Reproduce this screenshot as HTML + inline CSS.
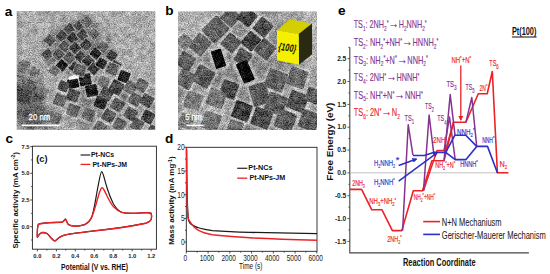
<!DOCTYPE html>
<html><head><meta charset="utf-8"><style>
html,body{margin:0;padding:0;background:#fff;width:550px;height:274px;overflow:hidden}
svg{display:block}
</style></head><body>
<svg width="550" height="274" viewBox="0 0 550 274">
<rect width="550" height="274" fill="#fff"/>
<clipPath id="clipA"><rect x="16.8" y="10.9" width="138.4" height="118.9"/></clipPath>
<clipPath id="clipB"><rect x="178" y="11.5" width="139.0" height="118.5"/></clipPath>
<filter id="tem" x="0" y="0" width="100%" height="100%" color-interpolation-filters="sRGB"><feGaussianBlur in="SourceGraphic" stdDeviation="0.45" result="b"/><feTurbulence type="fractalNoise" baseFrequency="0.85" numOctaves="2" seed="7" result="n"/><feColorMatrix in="n" type="matrix" values="1 0 0 0 0  1 0 0 0 0  1 0 0 0 0  0 0 0 0 1" result="g"/><feTurbulence type="fractalNoise" baseFrequency="0.18" numOctaves="2" seed="3" result="n2"/><feColorMatrix in="n2" type="matrix" values="0 1 0 0 0  0 1 0 0 0  0 1 0 0 0  0 0 0 0 1" result="g2"/><feComposite in="b" in2="g" operator="arithmetic" k1="0" k2="1" k3="0.65" k4="-0.325" result="c1"/><feComposite in="c1" in2="g2" operator="arithmetic" k1="0" k2="1" k3="0.35" k4="-0.175"/></filter>
<filter id="bl4" x="-50%" y="-50%" width="200%" height="200%"><feGaussianBlur stdDeviation="5"/></filter>
<filter id="bl2" x="-20%" y="-20%" width="140%" height="140%"><feGaussianBlur stdDeviation="2"/></filter>
<filter id="bl1" x="-10%" y="-10%" width="120%" height="120%"><feGaussianBlur stdDeviation="0.9"/></filter>
<g clip-path="url(#clipA)"><g filter="url(#tem)">
<rect x="16.8" y="10.9" width="138.4" height="118.9" fill="#aaaaaa"/>
<ellipse cx="28" cy="100" rx="16" ry="24" fill="#6a6a6a" filter="url(#bl4)"/>
<ellipse cx="26" cy="75" rx="10" ry="10" fill="#909090" filter="url(#bl4)"/>
<ellipse cx="112" cy="105" rx="45" ry="28" fill="#7c7c7c" filter="url(#bl4)"/>
<polygon points="44,38 62,27 86,14 98,28 104,44 118,58 124,76 100,76 60,74 44,62" fill="#7c7c7c" filter="url(#bl2)"/>
<ellipse cx="40" cy="118" rx="20" ry="10" fill="#8a8a8a" filter="url(#bl4)"/>
<ellipse cx="34" cy="116" rx="18" ry="10" fill="#5a5a5a" filter="url(#bl4)"/>
<g filter="url(#bl1)">
<rect x="82.4" y="55.3" width="11.6" height="11.6" rx="1.5" fill="none" stroke="#d6d6d6" stroke-width="1.4" transform="rotate(45 88.2 61.1)"/>
<rect x="56.1" y="59.7" width="11.6" height="11.6" rx="1.5" fill="none" stroke="#b4b4b4" stroke-width="1.4" transform="rotate(40 61.9 65.5)"/>
<rect x="69.2" y="61.8" width="11.6" height="11.6" rx="1.5" fill="none" stroke="#d6d6d6" stroke-width="1.4" transform="rotate(40 75.0 67.6)"/>
<rect x="87.8" y="62.9" width="11.6" height="11.6" rx="1.5" fill="none" stroke="#d6d6d6" stroke-width="1.4" transform="rotate(40 93.6 68.7)"/>
<rect x="95.9" y="57.7" width="11.4" height="11.4" rx="1.5" fill="none" stroke="#d6d6d6" stroke-width="1.4" transform="rotate(30 101.6 63.4)"/>
<rect x="109.9" y="60.2" width="11.4" height="11.4" rx="1.5" fill="none" stroke="#d6d6d6" stroke-width="1.4" transform="rotate(30 115.6 65.9)"/>
<rect x="48.8" y="65.5" width="10.9" height="10.9" rx="1.5" fill="none" stroke="#b4b4b4" stroke-width="1.4" transform="rotate(35 54.3 71.0)"/>
<rect x="66.9" y="78.3" width="12.4" height="10.4" rx="1.5" fill="none" stroke="#d6d6d6" stroke-width="1.4" transform="rotate(-10 73.1 83.5)"/>
<rect x="78.7" y="73.2" width="13.0" height="13.0" rx="1.5" fill="none" stroke="#d6d6d6" stroke-width="1.4" transform="rotate(-10 85.2 79.7)"/>
<rect x="85.2" y="84.2" width="13.0" height="13.0" rx="1.5" fill="none" stroke="#d6d6d6" stroke-width="1.4" transform="rotate(-10 91.7 90.7)"/>
<rect x="94.3" y="96.0" width="13.0" height="13.0" rx="1.5" fill="none" stroke="#d6d6d6" stroke-width="1.4" transform="rotate(20 100.8 102.5)"/>
<rect x="106.0" y="62.3" width="13.0" height="13.0" rx="1.5" fill="none" stroke="#d6d6d6" stroke-width="1.4" transform="rotate(20 112.5 68.8)"/>
<rect x="97.8" y="75.9" width="12.0" height="12.0" rx="1.5" fill="none" stroke="#d6d6d6" stroke-width="1.4" transform="rotate(20 103.8 81.9)"/>
<rect x="73.2" y="63.5" width="13.0" height="13.0" rx="1.5" fill="none" stroke="#d6d6d6" stroke-width="1.4" transform="rotate(20 79.7 70.0)"/>
<rect x="66.6" y="89.0" width="13.0" height="13.0" rx="1.5" fill="none" stroke="#d6d6d6" stroke-width="1.4" transform="rotate(20 73.1 95.5)"/>
<rect x="57.8" y="80.6" width="11.4" height="11.4" rx="1.5" fill="none" stroke="#d6d6d6" stroke-width="1.4" transform="rotate(20 63.5 86.3)"/>
<rect x="82.0" y="108.2" width="13.0" height="13.0" rx="1.5" fill="none" stroke="#d6d6d6" stroke-width="1.4" transform="rotate(20 88.5 114.7)"/>
<rect x="66.6" y="103.9" width="13.0" height="13.0" rx="1.5" fill="none" stroke="#d6d6d6" stroke-width="1.4" transform="rotate(20 73.1 110.4)"/>
<rect x="53.5" y="93.5" width="13.0" height="13.0" rx="1.5" fill="none" stroke="#b4b4b4" stroke-width="1.4" transform="rotate(20 60.0 100.0)"/>
<rect x="118.1" y="70.6" width="12.0" height="12.0" rx="1.5" fill="none" stroke="#d6d6d6" stroke-width="1.4" transform="rotate(20 124.1 76.6)"/>
<rect x="109.4" y="80.5" width="14.0" height="14.0" rx="1.5" fill="none" stroke="#d6d6d6" stroke-width="1.4" transform="rotate(30 116.4 87.5)"/>
<rect x="100.1" y="87.0" width="13.0" height="13.0" rx="1.5" fill="none" stroke="#d6d6d6" stroke-width="1.4" transform="rotate(30 106.6 93.5)"/>
<rect x="111.0" y="98.5" width="13.0" height="13.0" rx="1.5" fill="none" stroke="#d6d6d6" stroke-width="1.4" transform="rotate(30 117.5 105.0)"/>
<rect x="124.1" y="81.0" width="13.0" height="13.0" rx="1.5" fill="none" stroke="#d6d6d6" stroke-width="1.4" transform="rotate(30 130.6 87.5)"/>
<rect x="135.1" y="78.8" width="13.0" height="13.0" rx="1.5" fill="none" stroke="#d6d6d6" stroke-width="1.4" transform="rotate(30 141.6 85.3)"/>
<rect x="128.5" y="93.0" width="13.0" height="13.0" rx="1.5" fill="none" stroke="#d6d6d6" stroke-width="1.4" transform="rotate(30 135.0 99.5)"/>
<rect x="140.5" y="94.1" width="13.0" height="13.0" rx="1.5" fill="none" stroke="#d6d6d6" stroke-width="1.4" transform="rotate(30 147.0 100.6)"/>
<rect x="102.3" y="109.5" width="13.0" height="13.0" rx="1.5" fill="none" stroke="#d6d6d6" stroke-width="1.4" transform="rotate(30 108.8 116.0)"/>
<rect x="124.1" y="107.3" width="13.0" height="13.0" rx="1.5" fill="none" stroke="#d6d6d6" stroke-width="1.4" transform="rotate(30 130.6 113.8)"/>
<rect x="141.6" y="110.5" width="13.0" height="13.0" rx="1.5" fill="none" stroke="#d6d6d6" stroke-width="1.4" transform="rotate(30 148.1 117.0)"/>
<rect x="113.2" y="118.2" width="13.0" height="13.0" rx="1.5" fill="none" stroke="#d6d6d6" stroke-width="1.4" transform="rotate(30 119.7 124.7)"/>
<rect x="130.7" y="118.2" width="13.0" height="13.0" rx="1.5" fill="none" stroke="#d6d6d6" stroke-width="1.4" transform="rotate(30 137.2 124.7)"/>
<rect x="93.5" y="121.5" width="13.0" height="13.0" rx="1.5" fill="none" stroke="#d6d6d6" stroke-width="1.4" transform="rotate(30 100.0 128.0)"/>
<rect x="48.5" y="111.5" width="13.0" height="13.0" rx="1.5" fill="none" stroke="#b4b4b4" stroke-width="1.4" transform="rotate(20 55.0 118.0)"/>
<rect x="146.5" y="125.5" width="13.0" height="13.0" rx="1.5" fill="none" stroke="#d6d6d6" stroke-width="1.4" transform="rotate(30 153.0 132.0)"/>
</g>
<rect x="64.5" y="24.2" width="10.2" height="10.2" rx="1.2" fill="#444444" stroke="#9c9c9c" stroke-width="1" transform="rotate(45 69.6 29.3)"/>
<rect x="74.3" y="20.9" width="10.2" height="10.2" rx="1.2" fill="#535353" stroke="#9c9c9c" stroke-width="1" transform="rotate(45 79.4 26.0)"/>
<rect x="82.0" y="16.6" width="10.2" height="10.2" rx="1.2" fill="#676767" stroke="#9c9c9c" stroke-width="1" transform="rotate(45 87.1 21.7)"/>
<rect x="56.8" y="30.8" width="10.2" height="10.2" rx="1.2" fill="#444444" stroke="#9c9c9c" stroke-width="1" transform="rotate(45 61.9 35.9)"/>
<rect x="67.7" y="33.0" width="10.2" height="10.2" rx="1.2" fill="#353535" stroke="#9c9c9c" stroke-width="1" transform="rotate(45 72.8 38.1)"/>
<rect x="77.6" y="29.7" width="10.2" height="10.2" rx="1.2" fill="#444444" stroke="#9c9c9c" stroke-width="1" transform="rotate(45 82.7 34.8)"/>
<rect x="88.5" y="28.6" width="10.2" height="10.2" rx="1.2" fill="#676767" stroke="#9c9c9c" stroke-width="1" transform="rotate(45 93.6 33.7)"/>
<rect x="44.8" y="35.2" width="10.2" height="10.2" rx="1.2" fill="#535353" stroke="#9c9c9c" stroke-width="1" transform="rotate(45 49.9 40.3)"/>
<rect x="59.0" y="41.7" width="10.2" height="10.2" rx="1.2" fill="#535353" stroke="#9c9c9c" stroke-width="1" transform="rotate(45 64.1 46.8)"/>
<rect x="69.9" y="42.8" width="10.2" height="10.2" rx="1.2" fill="#444444" stroke="#9c9c9c" stroke-width="1" transform="rotate(45 75.0 47.9)"/>
<rect x="80.9" y="39.6" width="10.2" height="10.2" rx="1.2" fill="#444444" stroke="#9c9c9c" stroke-width="1" transform="rotate(45 86.0 44.7)"/>
<rect x="90.7" y="48.3" width="10.2" height="10.2" rx="1.2" fill="#212121" stroke="#9c9c9c" stroke-width="1" transform="rotate(40 95.8 53.4)"/>
<rect x="42.6" y="49.4" width="10.2" height="10.2" rx="1.2" fill="#535353" stroke="#9c9c9c" stroke-width="1" transform="rotate(45 47.7 54.5)"/>
<rect x="53.5" y="49.4" width="10.2" height="10.2" rx="1.2" fill="#535353" stroke="#9c9c9c" stroke-width="1" transform="rotate(45 58.6 54.5)"/>
<rect x="64.5" y="52.7" width="10.2" height="10.2" rx="1.2" fill="#535353" stroke="#9c9c9c" stroke-width="1" transform="rotate(45 69.6 57.8)"/>
<rect x="75.4" y="51.6" width="10.2" height="10.2" rx="1.2" fill="#444444" stroke="#9c9c9c" stroke-width="1" transform="rotate(45 80.5 56.7)"/>
<rect x="83.1" y="56.0" width="10.2" height="10.2" rx="1.2" fill="#353535" stroke="#9c9c9c" stroke-width="1" transform="rotate(45 88.2 61.1)"/>
<rect x="56.8" y="60.4" width="10.2" height="10.2" rx="1.2" fill="#212121" stroke="#9c9c9c" stroke-width="1" transform="rotate(40 61.9 65.5)"/>
<rect x="69.9" y="62.5" width="10.2" height="10.2" rx="1.2" fill="#353535" stroke="#9c9c9c" stroke-width="1" transform="rotate(40 75.0 67.6)"/>
<rect x="88.5" y="63.6" width="10.2" height="10.2" rx="1.2" fill="#3a3a3a" stroke="#9c9c9c" stroke-width="1" transform="rotate(40 93.6 68.7)"/>
<rect x="97.8" y="41.7" width="10.2" height="10.2" rx="1.2" fill="#626262" stroke="#9c9c9c" stroke-width="1" transform="rotate(40 102.9 46.8)"/>
<rect x="106.8" y="50.7" width="10.0" height="10.0" rx="1.2" fill="#414141" stroke="#9c9c9c" stroke-width="1" transform="rotate(35 111.8 55.7)"/>
<rect x="105.8" y="35.6" width="7.0" height="7.0" rx="1.2" fill="#8c8c8c" stroke="#9c9c9c" stroke-width="1" transform="rotate(35 109.3 39.1)"/>
<rect x="96.6" y="58.4" width="10.0" height="10.0" rx="1.2" fill="#282828" stroke="#9c9c9c" stroke-width="1" transform="rotate(30 101.6 63.4)"/>
<rect x="110.6" y="60.9" width="10.0" height="10.0" rx="1.2" fill="#4b4b4b" stroke="#9c9c9c" stroke-width="1" transform="rotate(30 115.6 65.9)"/>
<rect x="49.5" y="66.2" width="9.5" height="9.5" rx="1.2" fill="#6e6e6e" stroke="#9c9c9c" stroke-width="1" transform="rotate(35 54.3 71.0)"/>
<rect x="20.5" y="60.2" width="9.0" height="9.0" rx="1.2" fill="#7d7d7d" transform="rotate(30 25.0 64.7)"/>
<rect x="67.6" y="79.0" width="11.0" height="9.0" rx="1.2" fill="#191919" transform="rotate(-10 73.1 83.5)"/>
<rect x="79.4" y="73.9" width="11.6" height="11.6" rx="1.2" fill="#1e1e1e" transform="rotate(-10 85.2 79.7)"/>
<rect x="85.9" y="84.9" width="11.6" height="11.6" rx="1.2" fill="#1e1e1e" transform="rotate(-10 91.7 90.7)"/>
<rect x="95.0" y="96.7" width="11.6" height="11.6" rx="1.2" fill="#2d2d2d" transform="rotate(20 100.8 102.5)"/>
<rect x="106.7" y="63.0" width="11.6" height="11.6" rx="1.2" fill="#5f5f5f" stroke="#9c9c9c" stroke-width="1" transform="rotate(20 112.5 68.8)"/>
<rect x="98.5" y="76.6" width="10.6" height="10.6" rx="1.2" fill="#787878" transform="rotate(20 103.8 81.9)"/>
<rect x="73.9" y="64.2" width="11.6" height="11.6" rx="1.2" fill="#555555" stroke="#9c9c9c" stroke-width="1" transform="rotate(20 79.7 70.0)"/>
<rect x="67.3" y="89.7" width="11.6" height="11.6" rx="1.2" fill="#505050" transform="rotate(20 73.1 95.5)"/>
<rect x="58.5" y="81.3" width="10.0" height="10.0" rx="1.2" fill="#4b4b4b" transform="rotate(20 63.5 86.3)"/>
<rect x="82.7" y="108.9" width="11.6" height="11.6" rx="1.2" fill="#646464" transform="rotate(20 88.5 114.7)"/>
<rect x="67.3" y="104.6" width="11.6" height="11.6" rx="1.2" fill="#646464" transform="rotate(20 73.1 110.4)"/>
<rect x="54.2" y="94.2" width="11.6" height="11.6" rx="1.2" fill="#646464" transform="rotate(20 60.0 100.0)"/>
<rect x="118.8" y="71.3" width="10.6" height="10.6" rx="1.2" fill="#232323" transform="rotate(20 124.1 76.6)"/>
<rect x="110.1" y="81.2" width="12.6" height="12.6" rx="1.2" fill="#464646" transform="rotate(30 116.4 87.5)"/>
<rect x="100.8" y="87.7" width="11.6" height="11.6" rx="1.2" fill="#505050" transform="rotate(30 106.6 93.5)"/>
<rect x="111.7" y="99.2" width="11.6" height="11.6" rx="1.2" fill="#555555" transform="rotate(30 117.5 105.0)"/>
<rect x="124.8" y="81.7" width="11.6" height="11.6" rx="1.2" fill="#6e6e6e" transform="rotate(30 130.6 87.5)"/>
<rect x="135.8" y="79.5" width="11.6" height="11.6" rx="1.2" fill="#646464" transform="rotate(30 141.6 85.3)"/>
<rect x="129.2" y="93.7" width="11.6" height="11.6" rx="1.2" fill="#5f5f5f" transform="rotate(30 135.0 99.5)"/>
<rect x="141.2" y="94.8" width="11.6" height="11.6" rx="1.2" fill="#505050" transform="rotate(30 147.0 100.6)"/>
<rect x="103.0" y="110.2" width="11.6" height="11.6" rx="1.2" fill="#5a5a5a" transform="rotate(30 108.8 116.0)"/>
<rect x="124.8" y="108.0" width="11.6" height="11.6" rx="1.2" fill="#5a5a5a" transform="rotate(30 130.6 113.8)"/>
<rect x="142.3" y="111.2" width="11.6" height="11.6" rx="1.2" fill="#414141" transform="rotate(30 148.1 117.0)"/>
<rect x="113.9" y="118.9" width="11.6" height="11.6" rx="1.2" fill="#5f5f5f" transform="rotate(30 119.7 124.7)"/>
<rect x="131.4" y="118.9" width="11.6" height="11.6" rx="1.2" fill="#5f5f5f" transform="rotate(30 137.2 124.7)"/>
<rect x="94.2" y="122.2" width="11.6" height="11.6" rx="1.2" fill="#646464" transform="rotate(30 100.0 128.0)"/>
<rect x="49.2" y="112.2" width="11.6" height="11.6" rx="1.2" fill="#6e6e6e" transform="rotate(20 55.0 118.0)"/>
<rect x="147.2" y="126.2" width="11.6" height="11.6" rx="1.2" fill="#5a5a5a" transform="rotate(30 153.0 132.0)"/>
<rect x="17.0" y="63.0" width="10.0" height="10.0" rx="1.2" fill="#6e6e6e" transform="rotate(20 22.0 68.0)"/>
<rect x="30.5" y="67.5" width="9.0" height="9.0" rx="1.2" fill="#787878" transform="rotate(20 35.0 72.0)"/>
<rect x="15.0" y="82.0" width="10.0" height="12.0" rx="1.2" fill="#555555" transform="rotate(10 20.0 88.0)"/>
<rect x="33.0" y="93.0" width="10.0" height="10.0" rx="1.2" fill="#5f5f5f" transform="rotate(20 38.0 98.0)"/>
<rect x="23.0" y="107.0" width="10.0" height="10.0" rx="1.2" fill="#555555" transform="rotate(15 28.0 112.0)"/>
<rect x="39.0" y="120.0" width="10.0" height="8.0" rx="1.2" fill="#6e6e6e" transform="rotate(20 44.0 124.0)"/>
<rect x="16.2" y="89.3" width="15.0" height="13.0" rx="1.2" fill="#464646" transform="rotate(10 23.7 95.8)"/>
<rect x="26.3" y="80.5" width="10.0" height="10.0" rx="1.2" fill="#5f5f5f" transform="rotate(20 31.3 85.5)"/>
<rect x="17.0" y="109.5" width="10.0" height="11.0" rx="1.2" fill="#5f5f5f" transform="rotate(20 22.0 115.0)"/>
<rect x="31.0" y="103.0" width="10.0" height="10.0" rx="1.2" fill="#696969" transform="rotate(20 36.0 108.0)"/>
<rect x="15.5" y="75.5" width="9.0" height="9.0" rx="1.2" fill="#737373" transform="rotate(20 20.0 80.0)"/>
<rect x="38.5" y="87.5" width="9.0" height="9.0" rx="1.2" fill="#737373" transform="rotate(20 43.0 92.0)"/>
<rect x="25.0" y="121.0" width="10.0" height="8.0" rx="1.2" fill="#646464" transform="rotate(20 30.0 125.0)"/>
<rect x="68.5" y="75.8" width="11" height="3.2" rx="1.5" fill="#f6f6f6" transform="rotate(-10 74 77.4)"/>
</g></g>
<g clip-path="url(#clipB)"><g filter="url(#tem)">
<rect x="178" y="11.5" width="139.0" height="118.5" fill="#888888"/>
<ellipse cx="190" cy="24" rx="24" ry="18" fill="#b0b0b0" filter="url(#bl4)"/>
<ellipse cx="310" cy="40" rx="14" ry="40" fill="#b4b4b4" filter="url(#bl4)"/>
<ellipse cx="282" cy="15" rx="20" ry="6" fill="#a8a8a8" filter="url(#bl4)"/>
<ellipse cx="205" cy="112" rx="28" ry="20" fill="#a4a4a4" filter="url(#bl4)"/>
<ellipse cx="300" cy="100" rx="20" ry="30" fill="#9c9c9c" filter="url(#bl4)"/>
<g filter="url(#bl1)">
<rect x="204.9" y="17.9" width="21.1" height="23.1" rx="1.5" fill="none" stroke="#d0d0d0" stroke-width="1.6" transform="rotate(45 215.5 29.5)"/>
<rect x="190.9" y="34.5" width="18.1" height="20.1" rx="1.5" fill="none" stroke="#d0d0d0" stroke-width="1.6" transform="rotate(40 200.0 44.5)"/>
<rect x="221.9" y="8.4" width="17.1" height="17.1" rx="1.5" fill="none" stroke="#d0d0d0" stroke-width="1.6" transform="rotate(40 230.5 17.0)"/>
<rect x="238.5" y="8.4" width="17.1" height="17.1" rx="1.5" fill="none" stroke="#d0d0d0" stroke-width="1.6" transform="rotate(40 247.1 17.0)"/>
<rect x="254.6" y="18.6" width="17.1" height="17.1" rx="1.5" fill="none" stroke="#d0d0d0" stroke-width="1.6" transform="rotate(40 263.2 27.1)"/>
<rect x="243.0" y="32.6" width="16.1" height="17.1" rx="1.5" fill="none" stroke="#d0d0d0" stroke-width="1.6" transform="rotate(40 251.1 41.1)"/>
<rect x="222.4" y="34.6" width="17.1" height="17.1" rx="1.5" fill="none" stroke="#d0d0d0" stroke-width="1.6" transform="rotate(40 231.0 43.1)"/>
<rect x="256.1" y="40.2" width="18.1" height="18.1" rx="1.5" fill="none" stroke="#d0d0d0" stroke-width="1.6" transform="rotate(40 265.2 49.2)"/>
<rect x="235.0" y="49.2" width="16.1" height="16.1" rx="1.5" fill="none" stroke="#d0d0d0" stroke-width="1.6" transform="rotate(30 243.1 57.2)"/>
<rect x="177.4" y="52.7" width="17.1" height="17.1" rx="1.5" fill="none" stroke="#d0d0d0" stroke-width="1.6" transform="rotate(30 186.0 61.2)"/>
<rect x="177.2" y="34.6" width="14.3" height="14.3" rx="1.5" fill="none" stroke="#d0d0d0" stroke-width="1.6" transform="rotate(40 184.4 41.7)"/>
<rect x="193.4" y="66.5" width="20.1" height="20.1" rx="1.5" fill="none" stroke="#d0d0d0" stroke-width="1.6" transform="rotate(30 203.5 76.6)"/>
<rect x="176.6" y="70.2" width="18.1" height="18.1" rx="1.5" fill="none" stroke="#d0d0d0" stroke-width="1.6" transform="rotate(30 185.7 79.2)"/>
<rect x="220.0" y="80.4" width="18.1" height="18.1" rx="1.5" fill="none" stroke="#d0d0d0" stroke-width="1.6" transform="rotate(20 229.1 89.4)"/>
<rect x="249.9" y="82.9" width="19.1" height="23.1" rx="1.5" fill="none" stroke="#d0d0d0" stroke-width="1.6" transform="rotate(-15 259.5 94.4)"/>
<rect x="232.3" y="101.5" width="19.1" height="19.1" rx="1.5" fill="none" stroke="#d0d0d0" stroke-width="1.6" transform="rotate(20 241.9 111.1)"/>
<rect x="265.4" y="69.7" width="21.1" height="21.1" rx="1.5" fill="none" stroke="#d0d0d0" stroke-width="1.6" transform="rotate(20 276.0 80.2)"/>
<rect x="287.3" y="67.8" width="20.1" height="20.1" rx="1.5" fill="none" stroke="#d0d0d0" stroke-width="1.6" transform="rotate(20 297.4 77.8)"/>
<rect x="287.3" y="91.5" width="20.1" height="20.1" rx="1.5" fill="none" stroke="#d0d0d0" stroke-width="1.6" transform="rotate(20 297.4 101.5)"/>
<rect x="265.4" y="93.4" width="21.1" height="21.1" rx="1.5" fill="none" stroke="#d0d0d0" stroke-width="1.6" transform="rotate(20 276.0 103.9)"/>
<rect x="251.8" y="108.0" width="20.1" height="20.1" rx="1.5" fill="none" stroke="#d0d0d0" stroke-width="1.6" transform="rotate(20 261.8 118.1)"/>
<rect x="275.4" y="110.5" width="20.1" height="20.1" rx="1.5" fill="none" stroke="#d0d0d0" stroke-width="1.6" transform="rotate(20 285.5 120.5)"/>
<rect x="299.1" y="110.5" width="20.1" height="20.1" rx="1.5" fill="none" stroke="#d0d0d0" stroke-width="1.6" transform="rotate(20 309.2 120.5)"/>
<rect x="305.3" y="87.8" width="16.1" height="16.1" rx="1.5" fill="none" stroke="#d0d0d0" stroke-width="1.6" transform="rotate(20 313.4 95.8)"/>
<rect x="206.8" y="88.8" width="19.1" height="19.1" rx="1.5" fill="none" stroke="#d0d0d0" stroke-width="1.6" transform="rotate(20 216.3 98.3)"/>
<rect x="184.2" y="91.9" width="18.1" height="18.1" rx="1.5" fill="none" stroke="#d0d0d0" stroke-width="1.6" transform="rotate(20 193.3 100.9)"/>
<rect x="201.6" y="111.8" width="19.1" height="19.1" rx="1.5" fill="none" stroke="#d0d0d0" stroke-width="1.6" transform="rotate(20 211.2 121.3)"/>
<rect x="177.9" y="113.0" width="16.1" height="16.1" rx="1.5" fill="none" stroke="#d0d0d0" stroke-width="1.6" transform="rotate(20 186.0 121.0)"/>
<rect x="226.9" y="120.0" width="16.1" height="16.1" rx="1.5" fill="none" stroke="#d0d0d0" stroke-width="1.6" transform="rotate(20 235.0 128.0)"/>
<rect x="211.2" y="47.4" width="14.6" height="22.6" rx="1.5" fill="none" stroke="#d0d0d0" stroke-width="1.6" transform="rotate(-17.5 218.5 58.7)"/>
<rect x="237.3" y="59.1" width="15.9" height="25.3" rx="1.5" fill="none" stroke="#d0d0d0" stroke-width="1.6" transform="rotate(-23.4 245.3 71.8)"/>
</g>
<rect x="211.2" y="47.5" width="14.5" height="22.5" rx="2" fill="#b8b8b8" filter="url(#bl1)" transform="rotate(-17.5 218.5 58.7)"/>
<rect x="237.4" y="59.2" width="15.8" height="25.2" rx="2" fill="#b8b8b8" filter="url(#bl1)" transform="rotate(-23.4 245.3 71.8)"/>
<rect x="205.8" y="18.8" width="19.5" height="21.5" rx="1.2" fill="#646464" transform="rotate(45 215.5 29.5)"/>
<rect x="191.8" y="35.2" width="16.5" height="18.5" rx="1.2" fill="#646464" transform="rotate(40 200.0 44.5)"/>
<rect x="222.8" y="9.2" width="15.5" height="15.5" rx="1.2" fill="#5f5f5f" transform="rotate(40 230.5 17.0)"/>
<rect x="239.3" y="9.2" width="15.5" height="15.5" rx="1.2" fill="#464646" transform="rotate(40 247.1 17.0)"/>
<rect x="255.4" y="19.4" width="15.5" height="15.5" rx="1.2" fill="#4b4b4b" transform="rotate(40 263.2 27.1)"/>
<rect x="243.8" y="33.4" width="14.5" height="15.5" rx="1.2" fill="#3c3c3c" transform="rotate(40 251.1 41.1)"/>
<rect x="223.2" y="35.4" width="15.5" height="15.5" rx="1.2" fill="#5a5a5a" transform="rotate(40 231.0 43.1)"/>
<rect x="256.9" y="41.0" width="16.5" height="16.5" rx="1.2" fill="#5a5a5a" transform="rotate(40 265.2 49.2)"/>
<rect x="235.8" y="50.0" width="14.5" height="14.5" rx="1.2" fill="#505050" transform="rotate(30 243.1 57.2)"/>
<rect x="178.2" y="53.5" width="15.5" height="15.5" rx="1.2" fill="#5f5f5f" transform="rotate(30 186.0 61.2)"/>
<rect x="178.1" y="35.4" width="12.7" height="12.7" rx="1.2" fill="#787878" transform="rotate(40 184.4 41.7)"/>
<rect x="194.2" y="67.3" width="18.5" height="18.5" rx="1.2" fill="#555555" transform="rotate(30 203.5 76.6)"/>
<rect x="177.4" y="71.0" width="16.5" height="16.5" rx="1.2" fill="#646464" transform="rotate(30 185.7 79.2)"/>
<rect x="220.8" y="81.2" width="16.5" height="16.5" rx="1.2" fill="#464646" transform="rotate(20 229.1 89.4)"/>
<rect x="250.8" y="83.7" width="17.5" height="21.5" rx="1.2" fill="#5a5a5a" transform="rotate(-15 259.5 94.4)"/>
<rect x="233.2" y="102.3" width="17.5" height="17.5" rx="1.2" fill="#3c3c3c" transform="rotate(20 241.9 111.1)"/>
<rect x="266.2" y="70.5" width="19.5" height="19.5" rx="1.2" fill="#5f5f5f" transform="rotate(20 276.0 80.2)"/>
<rect x="288.1" y="68.5" width="18.5" height="18.5" rx="1.2" fill="#696969" transform="rotate(20 297.4 77.8)"/>
<rect x="288.1" y="92.2" width="18.5" height="18.5" rx="1.2" fill="#505050" transform="rotate(20 297.4 101.5)"/>
<rect x="266.2" y="94.2" width="19.5" height="19.5" rx="1.2" fill="#5f5f5f" transform="rotate(20 276.0 103.9)"/>
<rect x="252.6" y="108.8" width="18.5" height="18.5" rx="1.2" fill="#4b4b4b" transform="rotate(20 261.8 118.1)"/>
<rect x="276.2" y="111.2" width="18.5" height="18.5" rx="1.2" fill="#5a5a5a" transform="rotate(20 285.5 120.5)"/>
<rect x="299.9" y="111.2" width="18.5" height="18.5" rx="1.2" fill="#5a5a5a" transform="rotate(20 309.2 120.5)"/>
<rect x="306.1" y="88.5" width="14.5" height="14.5" rx="1.2" fill="#5a5a5a" transform="rotate(20 313.4 95.8)"/>
<rect x="207.6" y="89.5" width="17.5" height="17.5" rx="1.2" fill="#767676" transform="rotate(20 216.3 98.3)"/>
<rect x="185.1" y="92.7" width="16.5" height="16.5" rx="1.2" fill="#787878" transform="rotate(20 193.3 100.9)"/>
<rect x="202.4" y="112.5" width="17.5" height="17.5" rx="1.2" fill="#737373" transform="rotate(20 211.2 121.3)"/>
<rect x="178.8" y="113.8" width="14.5" height="14.5" rx="1.2" fill="#7d7d7d" transform="rotate(20 186.0 121.0)"/>
<rect x="227.8" y="120.8" width="14.5" height="14.5" rx="1.2" fill="#6e6e6e" transform="rotate(20 235.0 128.0)"/>
<rect x="213.2" y="49.5" width="10.5" height="18.5" rx="1.2" fill="#040404" transform="rotate(-17.5 218.5 58.7)"/>
<rect x="239.4" y="61.2" width="11.8" height="21.2" rx="1.2" fill="#060606" transform="rotate(-23.4 245.3 71.8)"/>
</g></g>
<rect x="21.8" y="124.5" width="38" height="1.7" fill="#fff"/>
<text x="28.6" y="119.8" font-family='"Liberation Sans", sans-serif' font-size="9" fill="#fff" stroke="#fff" stroke-width="0.25" textLength="21.6" lengthAdjust="spacingAndGlyphs">20 nm</text>
<rect x="186.5" y="124.6" width="17" height="1.5" fill="#fff"/>
<text x="185.2" y="120" font-family='"Liberation Sans", sans-serif' font-size="9.2" fill="#fff" stroke="#fff" stroke-width="0.25" textLength="16.5" lengthAdjust="spacingAndGlyphs">5 nm</text>
<polygon points="277,30.3 290,19.2 312,23.8 298.7,34" fill="#d4cf00"/>
<polygon points="298.7,34 312,23.6 312.1,54.3 299,64.7" fill="#2a2a12"/>
<polygon points="277,30.3 298.7,34 299,64.7 277.1,60.3" fill="#f4f000"/>
<text x="278.4" y="51.2" transform="rotate(8 287.5 47.5)" font-family='"Liberation Sans", sans-serif' font-size="10.5" font-style="italic" font-weight="bold" fill="#151500" textLength="18" lengthAdjust="spacingAndGlyphs">{100}</text>
<text x="4.8" y="15.6" font-family='"Liberation Sans", sans-serif' font-size="13.6" font-weight="bold" fill="#000">a</text>
<text x="165.2" y="15.1" font-family='"Liberation Sans", sans-serif' font-size="13.6" font-weight="bold" fill="#000">b</text>
<text x="5.5" y="143.4" font-family='"Liberation Sans", sans-serif' font-size="13.6" font-weight="bold" fill="#000">c</text>
<text x="165.1" y="142.9" font-family='"Liberation Sans", sans-serif' font-size="13.6" font-weight="bold" fill="#000">d</text>
<text x="337.9" y="15.1" font-family='"Liberation Sans", sans-serif' font-size="13.6" font-weight="bold" fill="#000">e</text>
<rect x="32.4" y="146.2" width="124" height="103" fill="none" stroke="#222" stroke-width="0.9"/>
<line x1="30.2" y1="146.6" x2="32.4" y2="146.6" stroke="#222" stroke-width="0.8"/>
<text x="29.6" y="148.6" font-family='"Liberation Sans", sans-serif' font-size="5.8" font-weight="bold" text-anchor="end" fill="#222">7.5</text>
<line x1="31.099999999999998" y1="159.9" x2="32.4" y2="159.9" stroke="#222" stroke-width="0.8"/>
<line x1="30.2" y1="173.3" x2="32.4" y2="173.3" stroke="#222" stroke-width="0.8"/>
<text x="29.6" y="175.3" font-family='"Liberation Sans", sans-serif' font-size="5.8" font-weight="bold" text-anchor="end" fill="#222">5.0</text>
<line x1="31.099999999999998" y1="186.6" x2="32.4" y2="186.6" stroke="#222" stroke-width="0.8"/>
<line x1="30.2" y1="200.0" x2="32.4" y2="200.0" stroke="#222" stroke-width="0.8"/>
<text x="29.6" y="202.0" font-family='"Liberation Sans", sans-serif' font-size="5.8" font-weight="bold" text-anchor="end" fill="#222">2.5</text>
<line x1="31.099999999999998" y1="213.3" x2="32.4" y2="213.3" stroke="#222" stroke-width="0.8"/>
<line x1="30.2" y1="226.7" x2="32.4" y2="226.7" stroke="#222" stroke-width="0.8"/>
<text x="29.6" y="228.7" font-family='"Liberation Sans", sans-serif' font-size="5.8" font-weight="bold" text-anchor="end" fill="#222">0.0</text>
<line x1="31.099999999999998" y1="240.0" x2="32.4" y2="240.0" stroke="#222" stroke-width="0.8"/>
<line x1="37.4" y1="249.2" x2="37.4" y2="251.39999999999998" stroke="#222" stroke-width="0.8"/>
<text x="37.4" y="257.5" font-family='"Liberation Sans", sans-serif' font-size="5.8" font-weight="bold" text-anchor="middle" fill="#222">0.0</text>
<line x1="46.9" y1="249.2" x2="46.9" y2="250.5" stroke="#222" stroke-width="0.8"/>
<line x1="56.4" y1="249.2" x2="56.4" y2="251.39999999999998" stroke="#222" stroke-width="0.8"/>
<text x="56.4" y="257.5" font-family='"Liberation Sans", sans-serif' font-size="5.8" font-weight="bold" text-anchor="middle" fill="#222">0.2</text>
<line x1="65.8" y1="249.2" x2="65.8" y2="250.5" stroke="#222" stroke-width="0.8"/>
<line x1="75.3" y1="249.2" x2="75.3" y2="251.39999999999998" stroke="#222" stroke-width="0.8"/>
<text x="75.3" y="257.5" font-family='"Liberation Sans", sans-serif' font-size="5.8" font-weight="bold" text-anchor="middle" fill="#222">0.4</text>
<line x1="84.8" y1="249.2" x2="84.8" y2="250.5" stroke="#222" stroke-width="0.8"/>
<line x1="94.3" y1="249.2" x2="94.3" y2="251.39999999999998" stroke="#222" stroke-width="0.8"/>
<text x="94.3" y="257.5" font-family='"Liberation Sans", sans-serif' font-size="5.8" font-weight="bold" text-anchor="middle" fill="#222">0.6</text>
<line x1="103.8" y1="249.2" x2="103.8" y2="250.5" stroke="#222" stroke-width="0.8"/>
<line x1="113.2" y1="249.2" x2="113.2" y2="251.39999999999998" stroke="#222" stroke-width="0.8"/>
<text x="113.2" y="257.5" font-family='"Liberation Sans", sans-serif' font-size="5.8" font-weight="bold" text-anchor="middle" fill="#222">0.8</text>
<line x1="122.7" y1="249.2" x2="122.7" y2="250.5" stroke="#222" stroke-width="0.8"/>
<line x1="132.2" y1="249.2" x2="132.2" y2="251.39999999999998" stroke="#222" stroke-width="0.8"/>
<text x="132.2" y="257.5" font-family='"Liberation Sans", sans-serif' font-size="5.8" font-weight="bold" text-anchor="middle" fill="#222">1.0</text>
<line x1="141.7" y1="249.2" x2="141.7" y2="250.5" stroke="#222" stroke-width="0.8"/>
<line x1="151.2" y1="249.2" x2="151.2" y2="251.39999999999998" stroke="#222" stroke-width="0.8"/>
<text x="151.2" y="257.5" font-family='"Liberation Sans", sans-serif' font-size="5.8" font-weight="bold" text-anchor="middle" fill="#222">1.2</text>
<text x="61" y="269.8" font-family='"Liberation Sans", sans-serif' font-size="8.2" font-weight="bold" fill="#111" textLength="67" lengthAdjust="spacingAndGlyphs">Potential (V vs. RHE)</text>
<text transform="translate(17.6 248.6) rotate(-90)" font-family='"Liberation Sans", sans-serif' font-size="7.6" font-weight="bold" fill="#111" textLength="96.5" lengthAdjust="spacingAndGlyphs">Specific activity (mA cm<tspan dy="-2.2" font-size="5">-2</tspan><tspan dy="2.2">)</tspan></text>
<text x="36.3" y="162.4" font-family='"Liberation Sans", sans-serif' font-size="9.2" font-weight="bold" fill="#111">(c)</text>
<line x1="80.6" y1="155" x2="90.3" y2="155" stroke="#333" stroke-width="1.3"/>
<text x="91" y="157" font-family='"Liberation Sans", sans-serif' font-size="7" font-weight="bold" fill="#111" textLength="23" lengthAdjust="spacingAndGlyphs">Pt-NCs</text>
<line x1="80.6" y1="164.4" x2="90.3" y2="164.4" stroke="#ec2226" stroke-width="1.3"/>
<text x="92.5" y="166.6" font-family='"Liberation Sans", sans-serif' font-size="7" font-weight="bold" fill="#111" textLength="34.5" lengthAdjust="spacingAndGlyphs">Pt-NPs-JM</text>
<path d="M37.3,237.4 C37.2,232 37.3,226 38.5,224.2 C41,222.8 55,222.6 62,222.2 C64,221.5 64.8,219 65.5,219.1 C66.3,219.5 67,223.5 68.5,224.6 C71,226.2 77,226.8 84.7,224.6 C88,223 90,221 91.5,217.5 C94,212 96,196 98.5,184 C99.8,177 100.8,171.7 101.7,171.7 C103,171.7 104.5,180 107.5,189.2 C110,197 112,201 113.3,203.7 C116,208 119,211.5 122,212.4 C127,213.6 133.7,213.4 140,213 C146,212.6 149,212.3 151,213.2 C151.8,215 151.8,218 151.2,219.5 C150,222 148,222.7 146,223.2 C130,226.5 110,229.5 90,231.4 C80,232.6 70,234 66.5,234.6 C62,235.6 60,237 59.2,237.4 C57,239.5 55.5,241 54.6,241 C52,240 49,235 47.3,233.7 C44.5,232.5 42,232.6 41.8,232.8 C40,233 38.5,235 37.3,237.4 Z" fill="none" stroke="#1a1a1a" stroke-width="1.2"/>
<path d="M37.3,237.4 C37.2,232 37.3,226 38.5,224.2 C41,222.8 55,222.6 62,222.2 C64,221.5 64.8,219 65.5,219.1 C66.3,219.5 67,223.5 68.5,224.6 C71,226.2 77,226.8 84.7,224.6 C88,223 90,221 91.5,217.5 C94,213 97,200 99.5,192.5 C100.6,189 101.4,187.7 102.2,187.7 C103.5,187.7 105,192 107,196 C109.5,201 111,204 113.3,206.5 C116,209.5 119,211.5 122,212.4 C127,213.6 133.7,213.4 140,213 C146,212.6 149,212.3 151,213.2 C151.8,215 151.8,218 151.2,219.5 C150,222 148,222.7 146,223.2 C130,226.5 110,229.5 90,231.4 C80,232.6 70,234 66.5,234.6 C62,235.6 60,237 59.2,237.4 C57,239.5 55.5,241 54.6,241 C52,240 49,235 47.3,233.7 C44.5,232.5 42,232.6 41.8,232.8 C40,233 38.5,235 37.3,237.4 Z" fill="none" stroke="#ec2226" stroke-width="1.4"/>
<rect x="186.3" y="147.3" width="130.7" height="104" fill="none" stroke="#222" stroke-width="0.9"/>
<line x1="184.10000000000002" y1="147.3" x2="186.3" y2="147.3" stroke="#222" stroke-width="0.8"/>
<text transform="translate(184.60 150.20) scale(0.8 1)" font-family='"Liberation Sans", sans-serif' font-size="8.3" font-weight="normal" text-anchor="end" fill="#222" >20</text>
<line x1="185.0" y1="159.1" x2="186.3" y2="159.1" stroke="#222" stroke-width="0.8"/>
<line x1="184.10000000000002" y1="171.0" x2="186.3" y2="171.0" stroke="#222" stroke-width="0.8"/>
<text transform="translate(184.60 173.90) scale(0.8 1)" font-family='"Liberation Sans", sans-serif' font-size="8.3" font-weight="normal" text-anchor="end" fill="#222" >15</text>
<line x1="185.0" y1="182.8" x2="186.3" y2="182.8" stroke="#222" stroke-width="0.8"/>
<line x1="184.10000000000002" y1="194.7" x2="186.3" y2="194.7" stroke="#222" stroke-width="0.8"/>
<text transform="translate(184.60 197.60) scale(0.8 1)" font-family='"Liberation Sans", sans-serif' font-size="8.3" font-weight="normal" text-anchor="end" fill="#222" >10</text>
<line x1="185.0" y1="206.5" x2="186.3" y2="206.5" stroke="#222" stroke-width="0.8"/>
<line x1="184.10000000000002" y1="218.4" x2="186.3" y2="218.4" stroke="#222" stroke-width="0.8"/>
<text transform="translate(184.60 221.30) scale(0.8 1)" font-family='"Liberation Sans", sans-serif' font-size="8.3" font-weight="normal" text-anchor="end" fill="#222" >5</text>
<line x1="185.0" y1="230.2" x2="186.3" y2="230.2" stroke="#222" stroke-width="0.8"/>
<line x1="184.10000000000002" y1="242.1" x2="186.3" y2="242.1" stroke="#222" stroke-width="0.8"/>
<text transform="translate(184.60 245.00) scale(0.8 1)" font-family='"Liberation Sans", sans-serif' font-size="8.3" font-weight="normal" text-anchor="end" fill="#222" >0</text>
<line x1="186.3" y1="251.3" x2="186.3" y2="253.5" stroke="#222" stroke-width="0.8"/>
<text transform="translate(185.20 260.70) scale(0.78 1)" font-family='"Liberation Sans", sans-serif' font-size="8.3" font-weight="normal" text-anchor="middle" fill="#222" >0</text>
<line x1="197.2" y1="251.3" x2="197.2" y2="252.60000000000002" stroke="#222" stroke-width="0.8"/>
<line x1="208.1" y1="251.3" x2="208.1" y2="253.5" stroke="#222" stroke-width="0.8"/>
<text transform="translate(206.95 260.70) scale(0.78 1)" font-family='"Liberation Sans", sans-serif' font-size="8.3" font-weight="normal" text-anchor="middle" fill="#222" >1000</text>
<line x1="218.9" y1="251.3" x2="218.9" y2="252.60000000000002" stroke="#222" stroke-width="0.8"/>
<line x1="229.8" y1="251.3" x2="229.8" y2="253.5" stroke="#222" stroke-width="0.8"/>
<text transform="translate(228.70 260.70) scale(0.78 1)" font-family='"Liberation Sans", sans-serif' font-size="8.3" font-weight="normal" text-anchor="middle" fill="#222" >2000</text>
<line x1="240.7" y1="251.3" x2="240.7" y2="252.60000000000002" stroke="#222" stroke-width="0.8"/>
<line x1="251.6" y1="251.3" x2="251.6" y2="253.5" stroke="#222" stroke-width="0.8"/>
<text transform="translate(250.45 260.70) scale(0.78 1)" font-family='"Liberation Sans", sans-serif' font-size="8.3" font-weight="normal" text-anchor="middle" fill="#222" >3000</text>
<line x1="262.4" y1="251.3" x2="262.4" y2="252.60000000000002" stroke="#222" stroke-width="0.8"/>
<line x1="273.3" y1="251.3" x2="273.3" y2="253.5" stroke="#222" stroke-width="0.8"/>
<text transform="translate(272.20 260.70) scale(0.78 1)" font-family='"Liberation Sans", sans-serif' font-size="8.3" font-weight="normal" text-anchor="middle" fill="#222" >4000</text>
<line x1="284.2" y1="251.3" x2="284.2" y2="252.60000000000002" stroke="#222" stroke-width="0.8"/>
<line x1="295.1" y1="251.3" x2="295.1" y2="253.5" stroke="#222" stroke-width="0.8"/>
<text transform="translate(293.95 260.70) scale(0.78 1)" font-family='"Liberation Sans", sans-serif' font-size="8.3" font-weight="normal" text-anchor="middle" fill="#222" >5000</text>
<line x1="305.9" y1="251.3" x2="305.9" y2="252.60000000000002" stroke="#222" stroke-width="0.8"/>
<line x1="316.8" y1="251.3" x2="316.8" y2="253.5" stroke="#222" stroke-width="0.8"/>
<text transform="translate(315.70 260.70) scale(0.78 1)" font-family='"Liberation Sans", sans-serif' font-size="8.3" font-weight="normal" text-anchor="middle" fill="#222" >6000</text>
<text x="239.1" y="268.8" font-family='"Liberation Sans", sans-serif' font-size="8.6" fill="#111" textLength="23.3" lengthAdjust="spacingAndGlyphs">Time (s)</text>
<text transform="translate(174.4 244.8) rotate(-90)" font-family='"Liberation Sans", sans-serif' font-size="7.6" font-weight="bold" fill="#111" textLength="88.4" lengthAdjust="spacingAndGlyphs">Mass activity (mA mg<tspan dy="-2.2" font-size="5">-1</tspan><tspan dy="2.2">)</tspan></text>
<line x1="237.2" y1="168.3" x2="247.3" y2="168.3" stroke="#333" stroke-width="1.3"/>
<text x="248.3" y="170.2" font-family='"Liberation Sans", sans-serif' font-size="7.8" font-weight="bold" fill="#111" textLength="24.2" lengthAdjust="spacingAndGlyphs">Pt-NCs</text>
<line x1="237.2" y1="178.2" x2="247.3" y2="178.2" stroke="#ec2226" stroke-width="1.3"/>
<text x="249.5" y="180.2" font-family='"Liberation Sans", sans-serif' font-size="7.4" font-weight="bold" fill="#111" textLength="35.8" lengthAdjust="spacingAndGlyphs">Pt-NPs-JM</text>
<path d="M186.6,150 C186.8,190 187.2,212 188.5,220.2 C189.5,223 190.5,224 192.1,224.8 C194,226 195.5,227 197.6,227.5 C200,228.3 202,228.8 205,229.3 C208,229.9 210,230.3 212.3,230.6 C225,231.6 237,232.1 250,232.4 C270,232.9 290,233.3 317,233.6" fill="none" stroke="#1a1a1a" stroke-width="1.3"/>
<path d="M186.5,147.3 C186.6,190 187,210 188,217.4 C188.6,220 189.5,221.3 190.5,222.5 C192,224.5 194,228 197.6,229.9 C200,231.3 202,232.2 205,233 C208,233.8 210,234.3 212.3,234.8 C225,236.2 237,237 250,237.8 C270,238.8 290,239.5 317,240.3" fill="none" stroke="#ec2226" stroke-width="1.4"/>
<line x1="349.8" y1="47.3" x2="349.8" y2="252.8" stroke="#444" stroke-width="1.1"/>
<line x1="349.3" y1="252.8" x2="528.9" y2="252.8" stroke="#444" stroke-width="1.2"/>
<line x1="348.40000000000003" y1="47.3" x2="349.8" y2="47.3" stroke="#333" stroke-width="0.8"/>
<line x1="347.40000000000003" y1="58.7" x2="349.8" y2="58.7" stroke="#333" stroke-width="0.8"/>
<text x="346.3" y="60.9" font-family='"Liberation Sans", sans-serif' font-size="6.6" font-weight="bold" text-anchor="end" fill="#222">2.5</text>
<line x1="348.40000000000003" y1="70.1" x2="349.8" y2="70.1" stroke="#333" stroke-width="0.8"/>
<line x1="347.40000000000003" y1="81.5" x2="349.8" y2="81.5" stroke="#333" stroke-width="0.8"/>
<text x="346.3" y="83.7" font-family='"Liberation Sans", sans-serif' font-size="6.6" font-weight="bold" text-anchor="end" fill="#222">2.0</text>
<line x1="348.40000000000003" y1="93.0" x2="349.8" y2="93.0" stroke="#333" stroke-width="0.8"/>
<line x1="347.40000000000003" y1="104.4" x2="349.8" y2="104.4" stroke="#333" stroke-width="0.8"/>
<text x="346.3" y="106.6" font-family='"Liberation Sans", sans-serif' font-size="6.6" font-weight="bold" text-anchor="end" fill="#222">1.5</text>
<line x1="348.40000000000003" y1="115.8" x2="349.8" y2="115.8" stroke="#333" stroke-width="0.8"/>
<line x1="347.40000000000003" y1="127.2" x2="349.8" y2="127.2" stroke="#333" stroke-width="0.8"/>
<text x="346.3" y="129.4" font-family='"Liberation Sans", sans-serif' font-size="6.6" font-weight="bold" text-anchor="end" fill="#222">1.0</text>
<line x1="348.40000000000003" y1="138.6" x2="349.8" y2="138.6" stroke="#333" stroke-width="0.8"/>
<line x1="347.40000000000003" y1="150.1" x2="349.8" y2="150.1" stroke="#333" stroke-width="0.8"/>
<text x="346.3" y="152.3" font-family='"Liberation Sans", sans-serif' font-size="6.6" font-weight="bold" text-anchor="end" fill="#222">0.5</text>
<line x1="348.40000000000003" y1="161.5" x2="349.8" y2="161.5" stroke="#333" stroke-width="0.8"/>
<line x1="347.40000000000003" y1="172.9" x2="349.8" y2="172.9" stroke="#333" stroke-width="0.8"/>
<text x="346.3" y="175.1" font-family='"Liberation Sans", sans-serif' font-size="6.6" font-weight="bold" text-anchor="end" fill="#222">0.0</text>
<line x1="348.40000000000003" y1="184.3" x2="349.8" y2="184.3" stroke="#333" stroke-width="0.8"/>
<line x1="347.40000000000003" y1="195.7" x2="349.8" y2="195.7" stroke="#333" stroke-width="0.8"/>
<text x="346.3" y="197.9" font-family='"Liberation Sans", sans-serif' font-size="6.6" font-weight="bold" text-anchor="end" fill="#222">-0.5</text>
<line x1="348.40000000000003" y1="207.2" x2="349.8" y2="207.2" stroke="#333" stroke-width="0.8"/>
<line x1="347.40000000000003" y1="218.6" x2="349.8" y2="218.6" stroke="#333" stroke-width="0.8"/>
<text x="346.3" y="220.8" font-family='"Liberation Sans", sans-serif' font-size="6.6" font-weight="bold" text-anchor="end" fill="#222">-1.0</text>
<line x1="348.40000000000003" y1="230.0" x2="349.8" y2="230.0" stroke="#333" stroke-width="0.8"/>
<line x1="347.40000000000003" y1="241.4" x2="349.8" y2="241.4" stroke="#333" stroke-width="0.8"/>
<text x="346.3" y="243.6" font-family='"Liberation Sans", sans-serif' font-size="6.6" font-weight="bold" text-anchor="end" fill="#222">-1.5</text>
<line x1="350.3" y1="172.8" x2="508.4" y2="172.8" stroke="#bbb" stroke-width="0.9"/>
<text transform="translate(332.9 180.7) rotate(-90)" font-family='"Liberation Sans", sans-serif' font-size="8.2" font-weight="bold" fill="#111" textLength="78" lengthAdjust="spacingAndGlyphs">Free Energy (eV)</text>
<text x="403" y="266.4" font-family='"Liberation Sans", sans-serif' font-size="10.4" font-weight="bold" fill="#111" textLength="72.5" lengthAdjust="spacingAndGlyphs">Reaction Coordinate</text>
<text x="511.9" y="35.4" font-family='"Liberation Sans", sans-serif' font-size="10.3" font-weight="bold" fill="#111" textLength="24.5" lengthAdjust="spacingAndGlyphs">Pt(100)</text>
<line x1="511.9" y1="37" x2="536.6" y2="37" stroke="#222" stroke-width="1.1"/>
<text x="353.7" y="28.2" font-family='"Liberation Sans", sans-serif' font-size="10.6" fill="#86338f" stroke="#86338f" stroke-width="0.12" textLength="73" lengthAdjust="spacingAndGlyphs"><tspan>TS</tspan><tspan dy="2.60" font-size="7.0">1</tspan><tspan dy="-2.60">: 2NH</tspan><tspan dy="2.60" font-size="7.0">2</tspan><tspan dy="-5.80" font-size="7.0">*</tspan><tspan dy="3.20" font-weight="bold" font-size="15">→</tspan><tspan>H</tspan><tspan dy="2.60" font-size="7.0">2</tspan><tspan dy="-2.60">NNH</tspan><tspan dy="2.60" font-size="7.0">2</tspan><tspan dy="-5.80" font-size="7.0">*</tspan></text>
<text x="353.7" y="45.9" font-family='"Liberation Sans", sans-serif' font-size="10.6" fill="#86338f" stroke="#86338f" stroke-width="0.12" textLength="84.7" lengthAdjust="spacingAndGlyphs"><tspan>TS</tspan><tspan dy="2.60" font-size="7.0">2</tspan><tspan dy="-2.60">: NH</tspan><tspan dy="2.60" font-size="7.0">2</tspan><tspan dy="-5.80" font-size="7.0">*</tspan><tspan dy="3.20">+NH</tspan><tspan dy="-3.20" font-size="7.0">*</tspan><tspan dy="3.20" font-weight="bold" font-size="15">→</tspan><tspan>HNNH</tspan><tspan dy="2.60" font-size="7.0">2</tspan><tspan dy="-5.80" font-size="7.0">*</tspan></text>
<text x="353.7" y="63.6" font-family='"Liberation Sans", sans-serif' font-size="10.6" fill="#86338f" stroke="#86338f" stroke-width="0.12" textLength="74.3" lengthAdjust="spacingAndGlyphs"><tspan>TS</tspan><tspan dy="2.60" font-size="7.0">3</tspan><tspan dy="-2.60">: NH</tspan><tspan dy="2.60" font-size="7.0">2</tspan><tspan dy="-5.80" font-size="7.0">*</tspan><tspan dy="3.20">+N</tspan><tspan dy="-3.20" font-size="7.0">*</tspan><tspan dy="3.20" font-weight="bold" font-size="15">→</tspan><tspan>NNH</tspan><tspan dy="2.60" font-size="7.0">2</tspan><tspan dy="-5.80" font-size="7.0">*</tspan></text>
<text x="353.7" y="81.2" font-family='"Liberation Sans", sans-serif' font-size="10.6" fill="#86338f" stroke="#86338f" stroke-width="0.12" textLength="65.8" lengthAdjust="spacingAndGlyphs"><tspan>TS</tspan><tspan dy="2.60" font-size="7.0">4</tspan><tspan dy="-2.60">: 2NH</tspan><tspan dy="-3.20" font-size="7.0">*</tspan><tspan dy="3.20" font-weight="bold" font-size="15">→</tspan><tspan>HNNH</tspan><tspan dy="-3.20" font-size="7.0">*</tspan></text>
<text x="353.7" y="98.8" font-family='"Liberation Sans", sans-serif' font-size="10.6" fill="#86338f" stroke="#86338f" stroke-width="0.12" textLength="69.2" lengthAdjust="spacingAndGlyphs"><tspan>TS</tspan><tspan dy="2.60" font-size="7.0">5</tspan><tspan dy="-2.60">: NH</tspan><tspan dy="-3.20" font-size="7.0">*</tspan><tspan dy="3.20">+N</tspan><tspan dy="-3.20" font-size="7.0">*</tspan><tspan dy="3.20" font-weight="bold" font-size="15">→</tspan><tspan>NNH</tspan><tspan dy="-3.20" font-size="7.0">*</tspan></text>
<text x="353.7" y="116.4" font-family='"Liberation Sans", sans-serif' font-size="10.6" fill="#ec2226" stroke="#ec2226" stroke-width="0.12" textLength="46.2" lengthAdjust="spacingAndGlyphs"><tspan>TS</tspan><tspan dy="2.60" font-size="7.0">6</tspan><tspan dy="-2.60">: 2N</tspan><tspan dy="-3.20" font-size="7.0">*</tspan><tspan dy="3.20" font-weight="bold" font-size="15">→</tspan><tspan>N</tspan><tspan dy="2.60" font-size="7.0">2</tspan></text>
<path d="M350,189.4 H361.6 L371.8,209.8 H382 L392.4,230.6 H401.8 L413.3,190.7 H422.5 L431.9,160.8 H444 L453.5,122.3 H465.9 L478.3,93.7 H487.2 L492.3,71.5 L497.4,172.7 H508.4" fill="none" stroke="#ec2226" stroke-width="1.6" stroke-linejoin="round"/>
<path d="M423.5,190.7 L437,150.5 H445.5 L453.5,122.3" fill="none" stroke="#ec2226" stroke-width="1.4" stroke-linejoin="round"/>
<path d="M402.6,230.6 L408.2,124.7 L412.9,155" fill="none" stroke="#86338f" stroke-width="1.5" stroke-linejoin="round"/>
<path d="M423.5,190.7 L429.1,115.1 L433.6,152.4" fill="none" stroke="#86338f" stroke-width="1.5" stroke-linejoin="round"/>
<path d="M444,160.8 L450.2,94.6 L455,135.2" fill="none" stroke="#86338f" stroke-width="1.5" stroke-linejoin="round"/>
<path d="M444,150.5 L449.5,117 L455.2,159.6" fill="none" stroke="#86338f" stroke-width="1.5" stroke-linejoin="round"/>
<path d="M465.9,122.3 L471.8,97.5 L476.7,146.4" fill="none" stroke="#86338f" stroke-width="1.5" stroke-linejoin="round"/>
<path d="M412.9,155.5 H424.3 L433.6,152.4 H445.7 L454.9,135.2 H465.8 L476.7,146.4 H487.5 L497.4,172.7" fill="none" stroke="#2c2fc8" stroke-width="1.6" stroke-linejoin="round"/>
<path d="M445.7,152.4 L455.2,159.6 H466 L476.7,146.4" fill="none" stroke="#2c2fc8" stroke-width="1.6" stroke-linejoin="round"/>
<defs><marker id="ab" markerWidth="5" markerHeight="5" refX="4" refY="2.5" orient="auto" markerUnits="userSpaceOnUse"><path d="M0,0 L5,2.5 L0,5 Z" fill="#2c2fc8"/></marker><marker id="ar" markerWidth="5" markerHeight="5" refX="4" refY="2.5" orient="auto" markerUnits="userSpaceOnUse"><path d="M0,0 L5,2.5 L0,5 Z" fill="#ec2226"/></marker></defs>
<line x1="398.7" y1="165.5" x2="416.5" y2="159" stroke="#2c2fc8" stroke-width="1.5" marker-end="url(#ab)"/>
<line x1="398.7" y1="181.2" x2="437" y2="152.8" stroke="#2c2fc8" stroke-width="1.5" marker-end="url(#ab)"/>
<line x1="460.8" y1="65.5" x2="460.8" y2="120" stroke="#ec2226" stroke-width="1.3" marker-end="url(#ar)"/>
<text x="404.6" y="120.5" font-family='"Liberation Sans", sans-serif' font-size="9.2" fill="#86338f" stroke="#86338f" stroke-width="0.15" textLength="9.6" lengthAdjust="spacingAndGlyphs"><tspan>TS</tspan><tspan dy="3.20" font-size="7.2">1</tspan></text>
<text x="425.1" y="108.6" font-family='"Liberation Sans", sans-serif' font-size="9.2" fill="#86338f" stroke="#86338f" stroke-width="0.15" textLength="8.8" lengthAdjust="spacingAndGlyphs"><tspan>TS</tspan><tspan dy="3.20" font-size="7.2">2</tspan></text>
<text x="446.4" y="86.6" font-family='"Liberation Sans", sans-serif' font-size="9.2" fill="#86338f" stroke="#86338f" stroke-width="0.15" textLength="10.2" lengthAdjust="spacingAndGlyphs"><tspan>TS</tspan><tspan dy="3.20" font-size="7.2">3</tspan></text>
<text x="437.3" y="121.4" font-family='"Liberation Sans", sans-serif' font-size="9.2" fill="#86338f" stroke="#86338f" stroke-width="0.15" textLength="9.2" lengthAdjust="spacingAndGlyphs"><tspan>TS</tspan><tspan dy="3.20" font-size="7.2">4</tspan></text>
<text x="465.5" y="89.6" font-family='"Liberation Sans", sans-serif' font-size="9.2" fill="#86338f" stroke="#86338f" stroke-width="0.15" textLength="9" lengthAdjust="spacingAndGlyphs"><tspan>TS</tspan><tspan dy="3.20" font-size="7.2">5</tspan></text>
<text x="489.3" y="65.8" font-family='"Liberation Sans", sans-serif' font-size="9.2" fill="#ec2226" stroke="#ec2226" stroke-width="0.15" textLength="9.4" lengthAdjust="spacingAndGlyphs"><tspan>TS</tspan><tspan dy="3.20" font-size="7.2">6</tspan></text>
<text x="479.6" y="90.6" font-family='"Liberation Sans", sans-serif' font-size="8.2" fill="#ec2226" stroke="#ec2226" stroke-width="0.15" textLength="7.6" lengthAdjust="spacingAndGlyphs"><tspan>2N</tspan><tspan dy="-2.60" font-size="5.6">*</tspan></text>
<text x="451.4" y="62.7" font-family='"Liberation Sans", sans-serif' font-size="8.2" fill="#ec2226" stroke="#ec2226" stroke-width="0.15" textLength="19.7" lengthAdjust="spacingAndGlyphs"><tspan>NH</tspan><tspan dy="-2.60" font-size="5.6">*</tspan><tspan dy="2.60">+N</tspan><tspan dy="-2.60" font-size="5.6">*</tspan></text>
<text x="433.1" y="143.2" font-family='"Liberation Sans", sans-serif' font-size="8.2" fill="#ec2226" stroke="#ec2226" stroke-width="0.15" textLength="13.9" lengthAdjust="spacingAndGlyphs"><tspan>2NH</tspan><tspan dy="-2.60" font-size="5.6">*</tspan></text>
<text x="435.2" y="168" font-family='"Liberation Sans", sans-serif' font-size="8.2" fill="#ec2226" stroke="#ec2226" stroke-width="0.15" textLength="20" lengthAdjust="spacingAndGlyphs"><tspan>NH</tspan><tspan dy="2.00" font-size="5.6">2</tspan><tspan dy="-4.60" font-size="5.6">*</tspan><tspan dy="2.60">+N</tspan><tspan dy="-2.60" font-size="5.6">*</tspan></text>
<text x="413.8" y="200" font-family='"Liberation Sans", sans-serif' font-size="8.2" fill="#ec2226" stroke="#ec2226" stroke-width="0.15" textLength="21.2" lengthAdjust="spacingAndGlyphs"><tspan>NH</tspan><tspan dy="2.00" font-size="5.6">2</tspan><tspan dy="-4.60" font-size="5.6">*</tspan><tspan dy="2.60">+NH</tspan><tspan dy="-2.60" font-size="5.6">*</tspan></text>
<text x="387.3" y="241.8" font-family='"Liberation Sans", sans-serif' font-size="8.2" fill="#ec2226" stroke="#ec2226" stroke-width="0.15" textLength="14.5" lengthAdjust="spacingAndGlyphs"><tspan>2NH</tspan><tspan dy="2.00" font-size="5.6">2</tspan><tspan dy="-4.60" font-size="5.6">*</tspan></text>
<text x="369.3" y="204.4" font-family='"Liberation Sans", sans-serif' font-size="8.2" fill="#ec2226" stroke="#ec2226" stroke-width="0.15" textLength="26.8" lengthAdjust="spacingAndGlyphs"><tspan>NH</tspan><tspan dy="2.00" font-size="5.6">3</tspan><tspan dy="-2.00">+NH</tspan><tspan dy="2.00" font-size="5.6">2</tspan><tspan dy="-4.60" font-size="5.6">*</tspan></text>
<text x="352.2" y="186" font-family='"Liberation Sans", sans-serif' font-size="8.2" fill="#ec2226" stroke="#ec2226" stroke-width="0.15" textLength="12.7" lengthAdjust="spacingAndGlyphs"><tspan>2NH</tspan><tspan dy="2.00" font-size="5.6">3</tspan></text>
<text x="457" y="134.5" font-family='"Liberation Sans", sans-serif' font-size="8.2" fill="#2c2fc8" stroke="#2c2fc8" stroke-width="0.15" textLength="17.6" lengthAdjust="spacingAndGlyphs"><tspan>NNH</tspan><tspan dy="2.00" font-size="5.6">2</tspan><tspan dy="-4.60" font-size="5.6">*</tspan></text>
<text x="460.3" y="167" font-family='"Liberation Sans", sans-serif' font-size="8.2" fill="#2c2fc8" stroke="#2c2fc8" stroke-width="0.15" textLength="17.5" lengthAdjust="spacingAndGlyphs"><tspan>HNNH</tspan><tspan dy="-2.60" font-size="5.6">*</tspan></text>
<text x="482.2" y="142.8" font-family='"Liberation Sans", sans-serif' font-size="8.2" fill="#2c2fc8" stroke="#2c2fc8" stroke-width="0.15" textLength="12.1" lengthAdjust="spacingAndGlyphs"><tspan>NNH</tspan><tspan dy="-2.60" font-size="5.6">*</tspan></text>
<text x="499.6" y="166.5" font-family='"Liberation Sans", sans-serif' font-size="9.2" fill="#ec2226" stroke="#ec2226" stroke-width="0.15" textLength="7.7" lengthAdjust="spacingAndGlyphs"><tspan>N</tspan><tspan dy="2.20" font-size="5.5">2</tspan></text>
<text x="374" y="165.5" font-family='"Liberation Sans", sans-serif' font-size="9.2" fill="#2c2fc8" stroke="#2c2fc8" stroke-width="0.15" textLength="21" lengthAdjust="spacingAndGlyphs"><tspan>H</tspan><tspan dy="2.20" font-size="5.5">2</tspan><tspan dy="-2.20">NNH</tspan><tspan dy="2.20" font-size="5.5">2</tspan></text>
<text x="395.8" y="163.2" font-family='"Liberation Sans", sans-serif' font-size="9.5" fill="#2c2fc8" stroke="#2c2fc8" stroke-width="0.15" textLength="3.6" lengthAdjust="spacingAndGlyphs">*</text>
<text x="374" y="184.5" font-family='"Liberation Sans", sans-serif' font-size="9.2" fill="#2c2fc8" stroke="#2c2fc8" stroke-width="0.15" textLength="20.6" lengthAdjust="spacingAndGlyphs"><tspan>H</tspan><tspan dy="2.20" font-size="5.5">2</tspan><tspan dy="-2.20">NNH</tspan><tspan dy="-2.86" font-size="5.5">*</tspan></text>
<line x1="423.2" y1="221.6" x2="440" y2="221.6" stroke="#ec2226" stroke-width="1.6"/>
<line x1="423.2" y1="234.4" x2="440" y2="234.4" stroke="#2c2fc8" stroke-width="1.6"/>
<text x="441.8" y="225.5" font-family='"Liberation Sans", sans-serif' font-size="10.2" fill="#222" stroke="#222" stroke-width="0.05" textLength="59.8" lengthAdjust="spacingAndGlyphs">N+N Mechaniusm</text>
<text x="441.8" y="238.5" font-family='"Liberation Sans", sans-serif' font-size="10.2" fill="#222" stroke="#222" stroke-width="0.05" textLength="104" lengthAdjust="spacingAndGlyphs">Gerischer-Mauerer Mechanism</text>
</svg>
</body></html>
